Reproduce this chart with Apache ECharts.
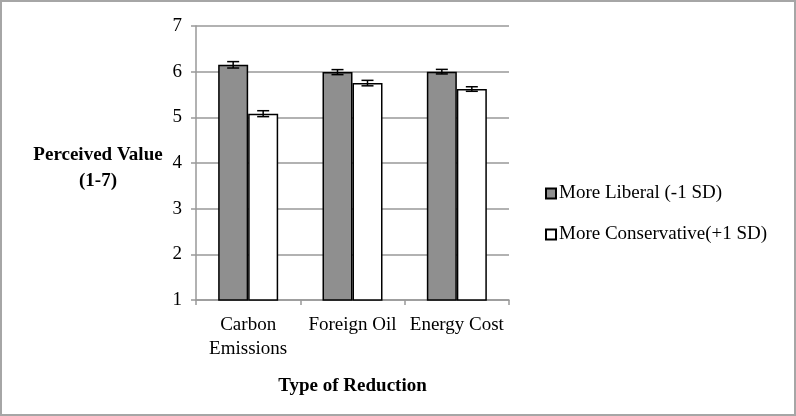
<!DOCTYPE html>
<html>
<head>
<meta charset="utf-8">
<script src="https://cdn.jsdelivr.net/npm/echarts@6/dist/echarts.min.js"></script>
<style>
html,body{margin:0;padding:0;background:#fff;}
#chart{width:796px;height:416px;box-sizing:border-box;border:2px solid #a6a6a6;}
</style>
</head>
<body>
<div id="chart"></div>
<script>
const categories = ['Carbon\nEmissions', 'Foreign Oil', 'Energy Cost'];
const seriesNames = ['More Liberal (-1 SD)', 'More Conservative(+1 SD)'];
const liberal = [6.15, 5.99, 6.0];
const conservative = [5.08, 5.75, 5.62];
const liberalErr = [0.07, 0.055, 0.05];
const conservativeErr = [0.065, 0.06, 0.05];
const yTicks = [1, 2, 3, 4, 5, 6, 7];

const chart = echarts.init(document.getElementById('chart'));
const FONT = 'Liberation Serif';
const BAR_W = 30;

function errData(vals, errs) {
  return vals.map((v, i) => [i, v - errs[i], v + errs[i]]);
}
function errRender(offset) {
  return function (params, api) {
    const i = api.value(0);
    const lo = api.coord([i, api.value(1)]);
    const hi = api.coord([i, api.value(2)]);
    const x = lo[0] + offset;
    const cap = 6;
    const st = { stroke: '#000', lineWidth: 1.5 };
    return {
      type: 'group',
      children: [
        { type: 'line', shape: { x1: x, y1: lo[1], x2: x, y2: hi[1] }, style: st },
        { type: 'line', shape: { x1: x - cap, y1: lo[1], x2: x + cap, y2: lo[1] }, style: st },
        { type: 'line', shape: { x1: x - cap, y1: hi[1], x2: x + cap, y2: hi[1] }, style: st }
      ]
    };
  };
}

chart.setOption({
  animation: false,
  backgroundColor: '#fff',
  textStyle: { fontFamily: FONT },
  grid: { left: 194, right: 285, top: 24, bottom: 114, containLabel: false },
  legend: {
    orient: 'vertical',
    left: 538,
    top: 177,
    itemWidth: 10,
    itemHeight: 10,
    itemGap: 22,
    icon: 'rect',
    data: seriesNames,
    textStyle: { fontFamily: FONT, fontSize: 19, color: '#000', padding: [0, 0, 0, -2] }
  },
  xAxis: {
    type: 'category',
    data: categories,
    name: 'Type of Reduction',
    nameLocation: 'middle',
    nameGap: 77,
    nameTextStyle: { fontFamily: FONT, fontSize: 19, fontWeight: 'bold', color: '#000' },
    axisLine: { lineStyle: { color: '#999', width: 1.5 } },
    axisTick: { show: true, length: 5, lineStyle: { color: '#999', width: 1.5 } },
    axisLabel: { interval: 0, hideOverlap: false, fontFamily: FONT, fontSize: 19, color: '#000', margin: 13, lineHeight: 24 }
  },
  yAxis: {
    type: 'value',
    min: 1,
    max: 7,
    interval: 1,
    axisLine: { show: true, lineStyle: { color: '#999', width: 1.5 } },
    axisTick: { show: true, length: 5, lineStyle: { color: '#999', width: 1.5 } },
    splitLine: { lineStyle: { color: '#999', width: 1.5 } },
    axisLabel: { fontFamily: FONT, fontSize: 19, color: '#000', margin: 14,
      formatter: v => yTicks.includes(v) ? String(v) : '' }
  },
  graphic: [
    { type: 'text', x: 96, y: 153, style: { text: 'Perceived Value', font: 'bold 19px "Liberation Serif"', fill: '#000', align: 'center', verticalAlign: 'middle' } },
    { type: 'text', x: 96, y: 179, style: { text: '(1-7)', font: 'bold 19px "Liberation Serif"', fill: '#000', align: 'center', verticalAlign: 'middle' } }
  ],
  series: [
    {
      name: seriesNames[0], type: 'bar', data: liberal, barWidth: BAR_W, barGap: '0%',
      itemStyle: { color: '#8f8f8f', borderColor: '#000', borderWidth: 1.5 }
    },
    {
      name: seriesNames[1], type: 'bar', data: conservative, barWidth: BAR_W, barGap: '0%',
      itemStyle: { color: '#fff', borderColor: '#000', borderWidth: 1.5 }
    },
    { type: 'custom', renderItem: errRender(-BAR_W / 2), data: errData(liberal, liberalErr), z: 5, silent: true },
    { type: 'custom', renderItem: errRender(BAR_W / 2), data: errData(conservative, conservativeErr), z: 5, silent: true }
  ]
});
</script>
</body>
</html>
